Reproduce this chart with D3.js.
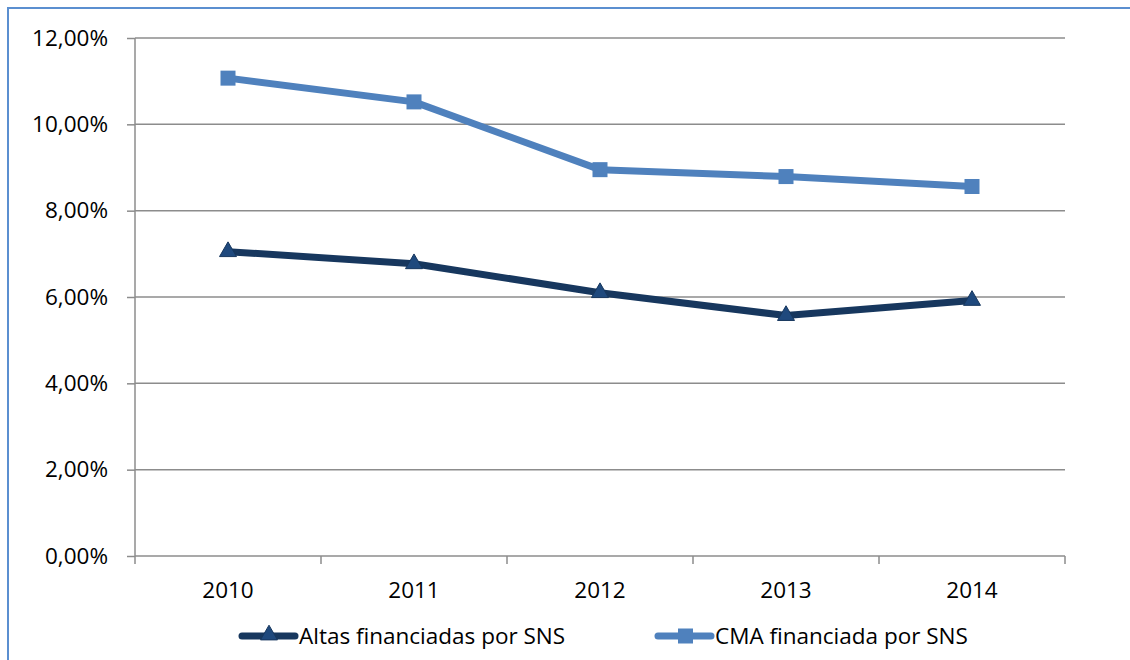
<!DOCTYPE html>
<html><head><meta charset="utf-8">
<script src="https://cdn.jsdelivr.net/npm/d3@7"></script>
<style>html,body{margin:0;padding:0;background:#fff;}svg{display:block;}</style>
</head><body>
<svg id="c" width="1130" height="660"></svg>
<script>
const categories = ["2010","2011","2012","2013","2014"];
const altas = [7.05, 6.77, 6.10, 5.57, 5.92];
const cma = [11.07, 10.52, 8.95, 8.79, 8.56];
const yTicks = [0,2,4,6,8,10,12];
const seriesNames = ["Altas financiadas por SNS","CMA financiada por SNS"];

const svg = d3.select("#c");
const font = "'Open Sans', sans-serif";
const fs = 22.5;
const L=135, R=1065, T=38, B=556;

svg.append("rect").attr("x",8).attr("y",8).attr("width",1130).attr("height",700)
  .attr("fill","none").attr("stroke","#5B8FD0").attr("stroke-width",2);

const x = d3.scaleBand().domain(categories).range([L,R]);
const y = d3.scaleLinear().domain([0,12]).range([B,T]);

svg.append("g").selectAll("line").data(yTicks.filter(d=>d>0)).join("line")
  .attr("x1",L).attr("x2",R).attr("y1",d=>y(d)).attr("y2",d=>y(d))
  .attr("stroke","#8c8c8c").attr("stroke-width",1.5);

const fmt = d => d.toFixed(2).replace(".",",")+"%";
const yAxis = svg.append("g").attr("transform",`translate(${L},0)`)
  .call(d3.axisLeft(y).tickValues(yTicks).tickFormat(fmt).tickSize(8).tickPadding(19));
const xAxis = svg.append("g").attr("transform",`translate(0,${B})`)
  .call(d3.axisBottom(x).tickSize(0).tickPadding(26));
const bounds = categories.map(c=>x(c)).concat([R]);
svg.append("g").selectAll("line").data(bounds).join("line")
  .attr("x1",d=>d).attr("x2",d=>d).attr("y1",B).attr("y2",B+8)
  .attr("stroke","#8c8c8c").attr("stroke-width",1.5);

[yAxis,xAxis].forEach(g=>{
  g.selectAll(".domain").attr("stroke","#8c8c8c").attr("stroke-width",1.5);
  g.selectAll(".tick line").attr("stroke","#8c8c8c").attr("stroke-width",1.5);
  g.selectAll("text").attr("font-family",font).attr("font-size",fs).attr("fill","#000");
});
yAxis.select(".domain").attr("d",`M0,${T}V${B}`);
xAxis.select(".domain").attr("d",`M${L},0H${R}`);

const cx = c => x(c)+x.bandwidth()/2;
const line = d3.line().x((d,i)=>cx(categories[i])).y(d=>y(d));

const colA="#17375E", colC="#4F81BD";
svg.append("path").datum(cma).attr("d",line).attr("fill","none").attr("stroke",colC).attr("stroke-width",7).attr("stroke-linejoin","round");
svg.append("path").datum(altas).attr("d",line).attr("fill","none").attr("stroke",colA).attr("stroke-width",7).attr("stroke-linejoin","round");

const tri = d3.symbol().type(d3.symbolTriangle).size(125);
svg.append("g").selectAll("path").data(altas).join("path")
  .attr("d",tri).attr("transform",(d,i)=>`translate(${cx(categories[i])},${y(d)})`)
  .attr("fill","#1F497D").attr("stroke","#17375E").attr("stroke-width",1);
svg.append("g").selectAll("rect").data(cma).join("rect")
  .attr("x",(d,i)=>cx(categories[i])-7.5).attr("y",d=>y(d)-7.5).attr("width",15).attr("height",15)
  .attr("fill",colC);

const leg = svg.append("g");
const items = [{name:seriesNames[0],col:colA,sym:"tri",x0:240},{name:seriesNames[1],col:colC,sym:"sq",x0:656}];
items.forEach(it=>{
  const g = leg.append("g").attr("transform",`translate(${it.x0},636)`);
  g.append("line").attr("x1",2).attr("x2",55).attr("y1",0).attr("y2",0).attr("stroke",it.col).attr("stroke-width",7).attr("stroke-linecap","round");
  if(it.sym==="tri") g.append("path").attr("d",tri).attr("transform","translate(29,-1)").attr("fill","#1F497D").attr("stroke","#17375E");
  else g.append("rect").attr("x",22).attr("y",-7.5).attr("width",15).attr("height",15).attr("fill",it.col);
  g.append("text").attr("x",59).attr("y",8).text(it.name).attr("font-family",font).attr("font-size",fs).attr("fill","#000");
});
</script>
</body></html>
